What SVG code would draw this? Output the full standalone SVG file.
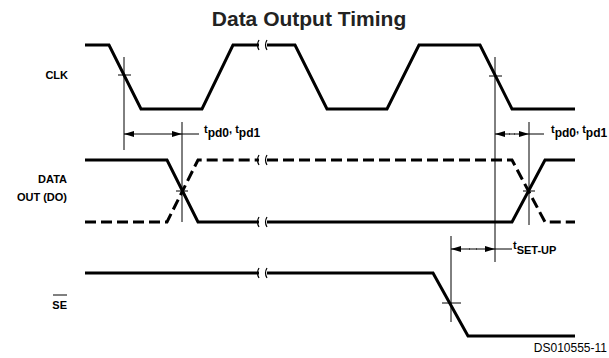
<svg xmlns="http://www.w3.org/2000/svg" width="609" height="358" viewBox="0 0 609 358">
<style>
.sig{fill:none;stroke:#000;stroke-width:3;stroke-linejoin:miter}
.dash{fill:none;stroke:#000;stroke-width:3;stroke-dasharray:11,5}
.thin{fill:none;stroke:#000;stroke-width:1}
.brk{fill:none;stroke:#000;stroke-width:1.2}
.lbl{font-family:"Liberation Sans",Arial,sans-serif;font-weight:bold;font-size:11px;fill:#000}
.title{font-family:"Liberation Sans",Arial,sans-serif;font-weight:bold;font-size:21px;fill:#222}
.id{font-family:"Liberation Sans",Arial,sans-serif;font-size:12px;fill:#000}
</style>
<defs>
<marker id="ah" viewBox="0 0 10 6" refX="10" refY="3" markerWidth="10" markerHeight="6" markerUnits="userSpaceOnUse" orient="auto">
<path d="M0,0 L10,3 L0,6 Z" fill="#000"/>
</marker>
</defs>
<rect width="609" height="358" fill="#fff"/>
<text class="title" x="309" y="26" text-anchor="middle">Data Output Timing</text>

<g id="clk">
<text class="lbl" x="68" y="79" text-anchor="end">CLK</text>
<polyline class="sig" points="85,45 109,45 141,109 202,109 233,45 259,45"/>
<polyline class="sig" points="267,45 295,45 327,109 387,109 419,45 480,45 512,109 575,109"/>
</g>

<g id="data">
<text class="lbl" x="67" y="183" text-anchor="end">DATA</text>
<text class="lbl" x="67" y="201" text-anchor="end">OUT (DO)</text>
<polyline class="sig" points="85,160 167,160 198,222 259,222"/>
<polyline class="dash" points="85,222 167,222 198,160 259,160"/>
<polyline class="sig" points="267,222 512,222 545,160 575,160"/>
<polyline class="dash" points="267,160 512,160 545,222 575,222"/>
</g>

<g id="se">
<text class="lbl" x="67" y="309" text-anchor="end">SE</text>
<line class="thin" x1="53" y1="295" x2="67" y2="295" stroke-width="1.3"/>
<polyline class="sig" points="85,273 259,273"/>
<polyline class="sig" points="267,273 433,273 468,336 575,336"/>
</g>

<g id="breaks">
<path class="brk" d="M259,40 q-3,5 0,10 M267,40 q-3,5 0,10"/>
<path class="brk" d="M259,155 q-3,5 0,10 M267,155 q-3,5 0,10"/>
<path class="brk" d="M259,217 q-3,5 0,10 M267,217 q-3,5 0,10"/>
<path class="brk" d="M259,268 q-3,5 0,10 M267,268 q-3,5 0,10"/>
</g>

<g id="connectors">
<!-- tpd left -->
<line class="thin" x1="124" y1="57" x2="124" y2="150"/>
<line class="thin" x1="118" y1="75" x2="131" y2="75"/>
<line class="thin" x1="182" y1="122" x2="182" y2="222"/>
<line class="thin" x1="176" y1="191" x2="188" y2="191"/>
<line class="thin" x1="140" y1="134" x2="124" y2="134" marker-end="url(#ah)"/>
<line class="thin" x1="166" y1="134" x2="182" y2="134" marker-end="url(#ah)"/>
<line class="thin" x1="140" y1="134" x2="166" y2="134"/>
<line class="thin" x1="182" y1="134" x2="199" y2="134"/>
<!-- tpd right -->
<line class="thin" x1="495" y1="57" x2="495" y2="262"/>
<line class="thin" x1="489" y1="76" x2="502" y2="76"/>
<line class="thin" x1="529" y1="122" x2="529" y2="225"/>
<line class="thin" x1="523" y1="191" x2="535" y2="191"/>
<line class="thin" x1="510" y1="134" x2="495" y2="134" marker-end="url(#ah)"/>
<line class="thin" x1="514" y1="134" x2="529" y2="134" marker-end="url(#ah)"/>
<line class="thin" x1="509" y1="134" x2="515" y2="134"/>
<line class="thin" x1="529" y1="134" x2="544" y2="134"/>
<!-- setup -->
<line class="thin" x1="451" y1="236" x2="451" y2="322"/>
<line class="thin" x1="442" y1="303" x2="461" y2="303"/>
<line class="thin" x1="470" y1="249" x2="451" y2="249" marker-end="url(#ah)"/>
<line class="thin" x1="476" y1="249" x2="495" y2="249" marker-end="url(#ah)"/>
<line class="thin" x1="469" y1="249" x2="477" y2="249"/>
<line class="thin" x1="495" y1="249" x2="512" y2="249"/>
</g>

<g id="labels">
<text class="lbl" x="204" y="133" font-size="12">t<tspan font-size="12" dy="4">pd0</tspan><tspan dy="-4">, t</tspan><tspan font-size="12" dy="4">pd1</tspan></text>
<text class="lbl" x="551" y="133" font-size="12">t<tspan font-size="12" dy="4">pd0</tspan><tspan dy="-4">, t</tspan><tspan font-size="12" dy="4">pd1</tspan></text>
<text class="lbl" x="513" y="249" font-size="12">t<tspan dy="5">SET-UP</tspan></text>
<text class="id" x="607" y="352" text-anchor="end">DS010555-11</text>
</g>
</svg>
